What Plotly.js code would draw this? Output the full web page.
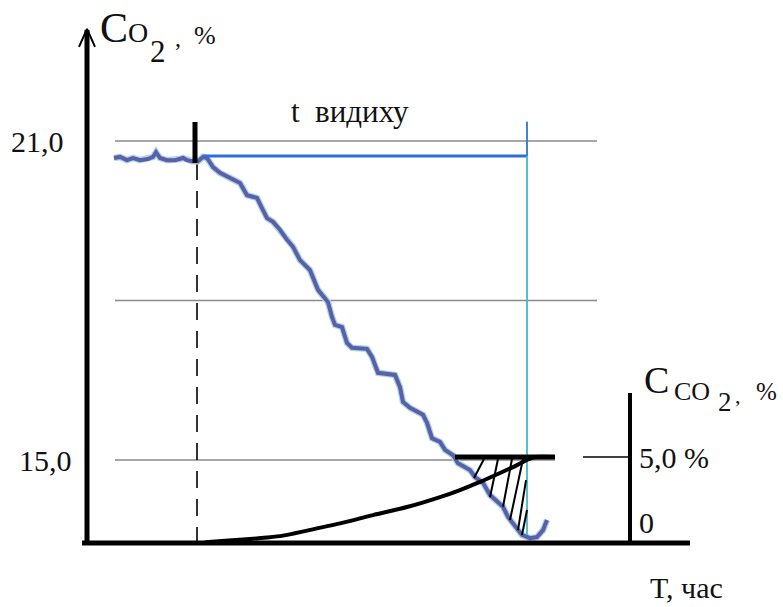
<!DOCTYPE html>
<html><head><meta charset="utf-8">
<script src="https://cdn.plot.ly/plotly-3.0.1.min.js"></script>
<style>html,body{margin:0;padding:0;background:#fff}</style>
</head><body>
<div id="chart" style="width:783px;height:607px"></div>
<script>
// ---- data (time in arbitrary hours, O2 in %, CO2 in %) ----
const o2Time = [2.7,3.3,4.0,4.6,5.3,6.1,6.6,6.9,7.3,8.0,8.8,9.3,9.6,10.0,10.5,11.1,11.6,12.0,12.6,13.3,14.6,15.3,16.0,17.0,17.6,18.0,18.6,19.3,20.0,20.6,21.3,22.3,23.1,24.1,24.5,24.8,25.5,26.0,26.5,28.0,28.5,29.1,30.8,31.3,31.6,32.3,33.6,34.0,34.5,35.3,35.8,36.6,37.1,38.3,38.8,39.6,40.3,41.0,41.6,42.1,42.6,43.1,43.5,44.3,45.0,45.6,46.0];
const o2Value = [20.68,20.70,20.64,20.68,20.64,20.66,20.70,20.79,20.68,20.64,20.64,20.66,20.68,20.64,20.62,20.62,20.70,20.68,20.51,20.40,20.27,20.21,19.98,19.93,19.70,19.55,19.48,19.33,19.14,19.01,18.76,18.57,18.20,17.97,17.69,17.54,17.50,17.20,17.11,17.09,16.94,16.64,16.60,16.37,16.09,15.98,15.85,15.70,15.41,15.34,15.19,15.09,14.94,14.81,14.68,14.57,14.34,14.21,14.12,13.93,13.81,13.68,13.59,13.53,13.55,13.68,13.87];
const co2Time = [11.8,12.5,15.6,18.0,19.6,22.0,25.3,28.6,32.0,35.3,37.3,39.3,41.3,43.0,44.0,44.8,46.8];
const co2Value = [0.04,0.08,0.20,0.32,0.43,0.72,1.14,1.62,2.09,2.67,3.08,3.55,4.07,4.53,4.83,5.0,5.0];
const co2Limit = 5.0;
const co2LimitFrom = 36.8, co2LimitTo = 46.8;
const gridLevels = [21, 18, 15];
const gridStart = 2.8;
const gridEnds = [51.0, 51.0, 46.8];
const o2TickVals = [21.0, 15.0];
const o2TickText = ['21,0', '15,0'];
const co2TickVals = [5.0, 0];
const co2TickText = ['5,0 %', '0'];
const exhaleMarkTime = 10.8, exhaleStartTime = 11.0, exhaleLineStart = 11.6, exhaleEndTime = 44.0;
const exhaleLevel = 20.72;
const hatchTopX = [39.7, 41.1, 42.5, 43.6, 43.9, 44.0];
const hatchTopY = [15.02, 15.02, 15.02, 15.02, 14.62, 14.06];
const hatchBotX = [38.7, 40.3, 41.6, 42.3, 43.1, 43.5];
const hatchBotY = [14.66, 14.30, 14.12, 13.87, 13.68, 13.59];

// ---- layout geometry ----
const W = 783, H = 607;
const xRange = [-8.7, 69.6];
const yRange = [12.235, 23.652];
const y2Range = [-3.721, 31.570];
const axisBottomO2 = 13.44, axisTopO2 = 23.09;
const rightAxisX = 54.3, rightAxisTop = 8.72;

const serif = 'Liberation Serif, Times New Roman, serif';
const traces = [];

// grid lines
const gx = [], gy = [];
gridLevels.forEach((lv, i) => { gx.push(gridStart, gridEnds[i], null); gy.push(lv, lv, null); });
traces.push({x: gx, y: gy, mode: 'lines', line: {color: '#8a8a8a', width: 1.3}, hoverinfo: 'skip'});

// dashed start line
traces.push({x: [exhaleStartTime, exhaleStartTime], y: [20.586, axisBottomO2], mode: 'lines',
  line: {color: '#000', width: 1.6, dash: '17px,11px'}, hoverinfo: 'skip'});

// O2 curve (halo + main)
traces.push({x: o2Time, y: o2Value, mode: 'lines', line: {color: '#a9d6ea', width: 6.5}, hoverinfo: 'skip'});
traces.push({x: o2Time, y: o2Value, mode: 'lines', line: {color: '#5a5fa6', width: 4}, hoverinfo: 'skip'});

// exhale duration line
traces.push({x: [exhaleLineStart, exhaleEndTime], y: [exhaleLevel, exhaleLevel], mode: 'lines',
  line: {color: '#2f6fd3', width: 3}, hoverinfo: 'skip'});
// end vertical
traces.push({x: [exhaleEndTime, exhaleEndTime], y: [13.6, 21.36], mode: 'lines',
  line: {color: '#3fb9c9', width: 1.8}, hoverinfo: 'skip'});
traces.push({x: [exhaleEndTime, exhaleEndTime], y: [exhaleLevel, 21.36], mode: 'lines',
  line: {color: '#3d7fcc', width: 1.8}, hoverinfo: 'skip'});
// start mark
traces.push({x: [exhaleMarkTime, exhaleMarkTime], y: [20.586, 21.357], mode: 'lines',
  line: {color: '#000', width: 5}, hoverinfo: 'skip'});

// hatch
const hx = [], hy = [];
hatchTopX.forEach((v, i) => { hx.push(v, hatchBotX[i], null); hy.push(hatchTopY[i], hatchBotY[i], null); });
traces.push({x: hx, y: hy, mode: 'lines', line: {color: '#000', width: 2}, hoverinfo: 'skip'});

// CO2 curve and limit
traces.push({x: co2Time, y: co2Value, yaxis: 'y2', mode: 'lines', line: {color: '#000', width: 4, shape: 'spline', smoothing: 0.8}, hoverinfo: 'skip'});
traces.push({x: [co2LimitFrom, co2LimitTo], y: [co2Limit, co2Limit], yaxis: 'y2', mode: 'lines', line: {color: '#000', width: 5}, hoverinfo: 'skip'});
// right axis tick
traces.push({x: [49.6, rightAxisX], y: [co2TickVals[0], co2TickVals[0]], yaxis: 'y2', mode: 'lines', line: {color: '#000', width: 1.5}, hoverinfo: 'skip'});

// axes
traces.push({x: [0, 0], y: [axisBottomO2, axisTopO2], mode: 'lines', line: {color: '#000', width: 5}, hoverinfo: 'skip'});
traces.push({x: [-0.8, 0, 0.8], y: [axisTopO2 - 0.32, axisTopO2 + 0.02, axisTopO2 - 0.32], mode: 'lines', line: {color: '#000', width: 2}, hoverinfo: 'skip'});
traces.push({x: [-0.5, 60.3], y: [axisBottomO2, axisBottomO2], mode: 'lines', line: {color: '#000', width: 5}, hoverinfo: 'skip'});
traces.push({x: [rightAxisX, rightAxisX], y: [0, rightAxisTop], yaxis: 'y2', mode: 'lines', line: {color: '#000', width: 4}, hoverinfo: 'skip'});

// annotations
function A(text, px, py, size, xa) {
  return {text: text, x: px / W, y: 1 - py / H, xref: 'paper', yref: 'paper', showarrow: false,
    xanchor: xa || 'center', yanchor: 'middle', font: {family: serif, size: size, color: '#111'}};
}
const ann = [];
const o2TickRight = [66, 74];
o2TickVals.forEach((v, i) => ann.push({text: o2TickText[i], x: o2TickRight[i] / W, xref: 'paper', y: v, yref: 'y',
  showarrow: false, xanchor: 'right', yanchor: 'middle', font: {family: serif, size: 30, color: '#111'}}));
co2TickVals.forEach((v, i) => ann.push({text: co2TickText[i], x: 637 / W, xref: 'paper', y: v + (i === 1 ? 1.2 : 0), yref: 'y2',
  showarrow: false, xanchor: 'left', yanchor: 'middle', font: {family: serif, size: 30, color: '#111'}}));
ann.push(A('C', 114, 28, 42));
ann.push(A('O', 138, 33, 28));
ann.push(A('2', 158, 52, 31));
ann.push(A(',', 178, 38, 24));
ann.push(A('%', 205, 36, 26));
ann.push(A('C', 656, 380, 38));
ann.push(A('CO', 692, 392, 26));
ann.push(A('2', 725, 402, 27));
ann.push(A(',', 738, 396, 22));
ann.push(A('%', 766, 392, 25));
ann.push(A('t  видиху', 350, 112, 31));
ann.push(A('T, час', 686, 587, 30));

const layout = {
  width: W, height: H, margin: {l: 0, r: 0, t: 0, b: 0}, showlegend: false,
  paper_bgcolor: '#fff', plot_bgcolor: '#fff',
  xaxis: {range: xRange, visible: false, fixedrange: true},
  yaxis: {range: yRange, visible: false, fixedrange: true},
  yaxis2: {range: y2Range, visible: false, overlaying: 'y', fixedrange: true},
  annotations: ann
};
Plotly.newPlot('chart', traces, layout, {displayModeBar: false, staticPlot: true});
</script>
</body></html>
